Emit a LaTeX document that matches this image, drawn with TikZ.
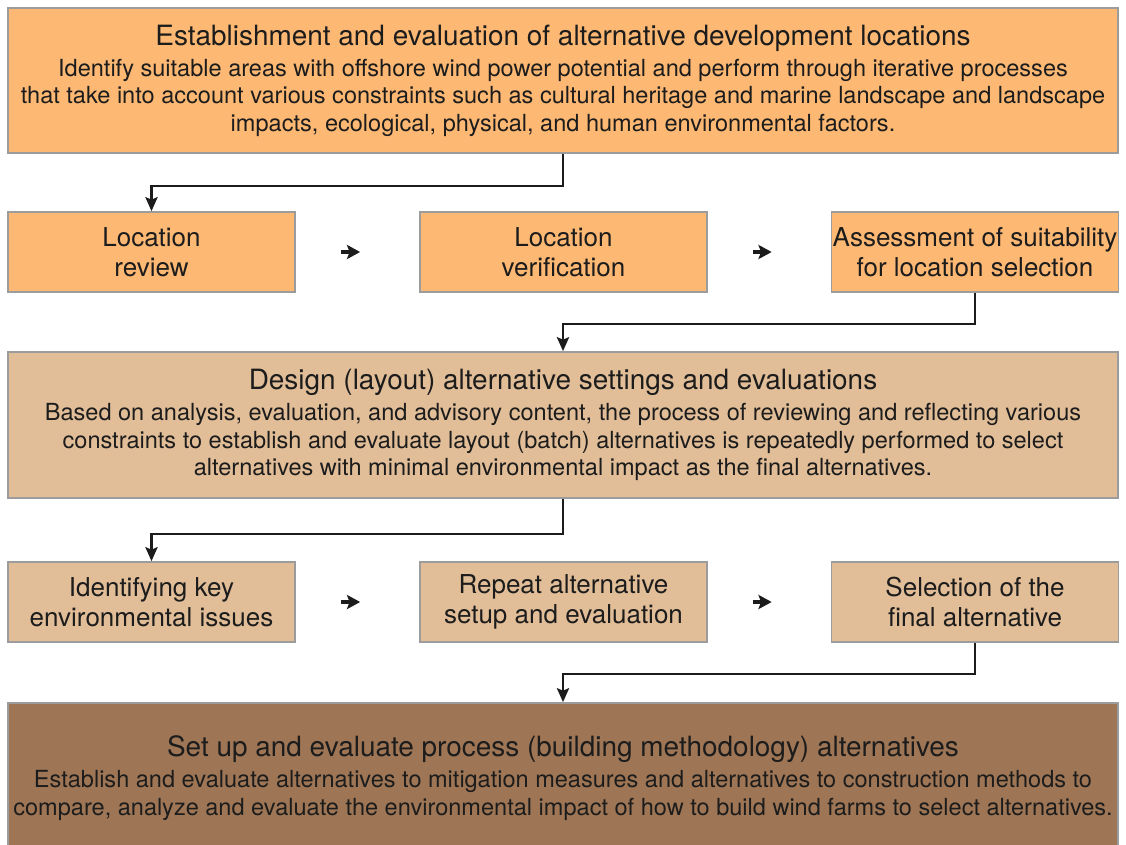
\documentclass[tikz,border=0pt]{standalone}
\usepackage{fontspec}
\setmainfont{TeX Gyre Heros}
\usetikzlibrary{arrows.meta,positioning,calc}
\definecolor{Apricot}{HTML}{FDB974}
\definecolor{Sand}{HTML}{E2BE98}
\definecolor{Umber}{HTML}{9F7655}
\definecolor{EdgeGray}{HTML}{9C9C9C}
\definecolor{Ink}{HTML}{1C1C1C}

\begin{document}
\begin{tikzpicture}[x=0.02cm,y=-0.02cm,
    wide/.style={draw=EdgeGray,line width=1pt,minimum width=22.2cm,inner sep=0pt,align=center,text=Ink,
      font=\fontsize{13.4}{15.6}\selectfont},
    step box/.style={draw=EdgeGray,line width=1pt,minimum width=5.74cm,minimum height=1.6cm,inner sep=0pt,
      align=center,text=Ink,font=\fontsize{14.8}{17}\selectfont},
    link/.style={draw=Ink,line width=1.2pt,-{Stealth[length=8pt,width=7pt,inset=1.5pt]}},
    nudge/.style={draw=Ink,line width=2.2pt,-{Stealth[length=7.5pt,width=8pt,inset=1.5pt]},
      shorten <=0.9cm,shorten >=1.18cm}]
  \useasboundingbox (0,0) rectangle (1126,845);
  \clip (0,0) rectangle (1126,845);
  % top block
  \node[wide,fill=Apricot,minimum height=2.9cm] (siting) at (563,80.5)
    {{\fontsize{15.9}{15.6}\selectfont Establishment and evaluation of alternative development locations}\\[2pt]
     Identify suitable areas with offshore wind power potential and perform through iterative processes\\
     that take into account various constraints such as cultural heritage and marine landscape and landscape\\
     impacts, ecological, physical, and human environmental factors.};
  \node[step box,fill=Apricot] (review) at (151.5,252) {Location\\review};
  \node[step box,fill=Apricot] (verify) at (563.5,252) {Location\\verification};
  \node[step box,fill=Apricot] (suit) at (975,252) {Assessment of suitability\\for location selection};
  % layout block
  \node[wide,fill=Sand,minimum height=2.92cm] (layout) at (563,425)
    {{\fontsize{15.9}{15.6}\selectfont Design (layout) alternative settings and evaluations}\\[2pt]
     Based on analysis, evaluation, and advisory content, the process of reviewing and reflecting various\\
     constraints to establish and evaluate layout (batch) alternatives is repeatedly performed to select\\
     alternatives with minimal environmental impact as the final alternatives.};
  \node[step box,fill=Sand] (issues) at (151.5,602) {Identifying key\\environmental issues};
  \node[step box,fill=Sand] (repeat) at (563.5,602) {Repeat alternative\\setup and evaluation};
  \node[step box,fill=Sand] (final) at (975,602) {Selection of the\\final alternative};
  % process block
  \node[wide,fill=Umber,minimum height=3cm] (build) at (563,778)
    {{\fontsize{15.9}{15.6}\selectfont Set up and evaluate process (building methodology) alternatives}\\[2pt]
     Establish and evaluate alternatives to mitigation measures and alternatives to construction methods to\\
     compare, analyze and evaluate the environmental impact of how to build wind farms to select alternatives.};
  % connectors
  \draw[link] (siting.south) -- ++(0,32) -| (review.north);
  \draw[link] (suit.south) -- ++(0,31) -| (layout.north);
  \draw[link] (layout.south) -- ++(0,35) -| (issues.north);
  \draw[link] (final.south) -- ++(0,31) -| (build.north);
  \draw[nudge] (review) -- (verify);
  \draw[nudge] (verify) -- (suit);
  \draw[nudge] (issues) -- (repeat);
  \draw[nudge] (repeat) -- (final);
\end{tikzpicture}
\end{document}
